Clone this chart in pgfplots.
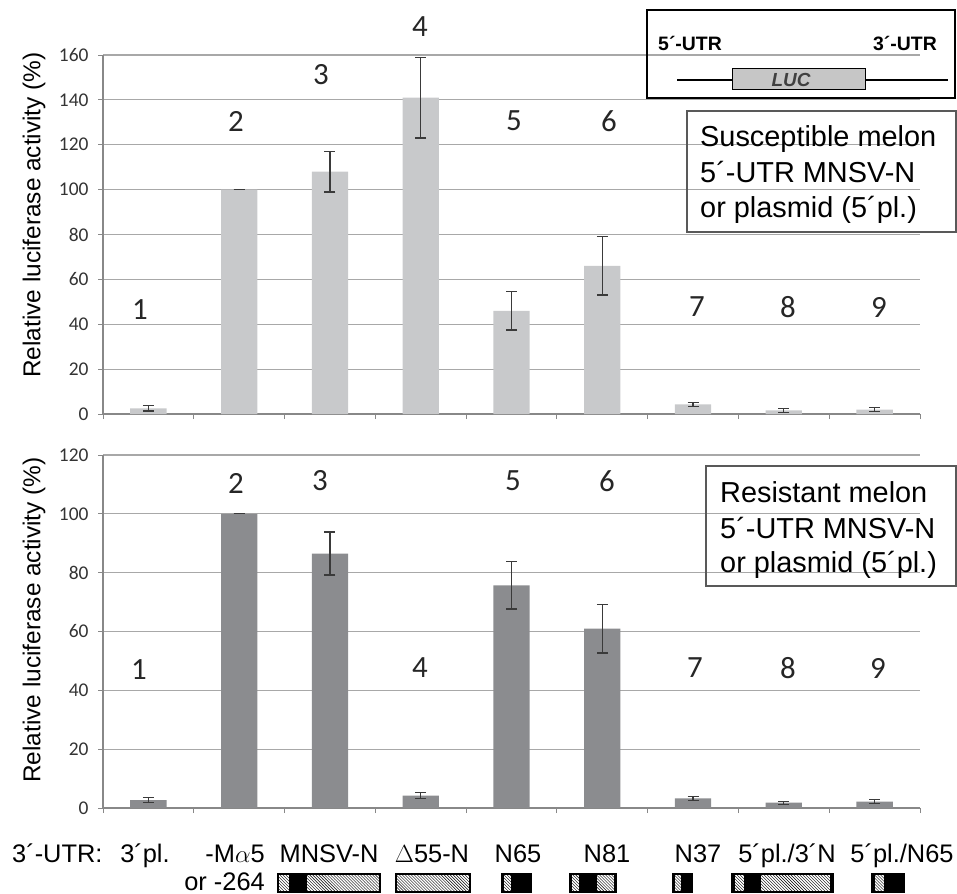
\documentclass[border=0pt]{standalone}
\usepackage{pgfplots}
\pgfplotsset{compat=1.18}
\usetikzlibrary{patterns}
\usepackage{fontspec}
\setmainfont{Liberation Sans}
\newfontfamily\carl{Carlito}

\definecolor{barA}{HTML}{C8C9CB}
\definecolor{barB}{HTML}{8B8C8F}
\definecolor{gridc}{HTML}{A8A8A8}
\definecolor{axc}{HTML}{888888}
\definecolor{errc}{HTML}{3A3A3A}

\pgfplotsset{base/.style={
  scale only axis, width=817bp, xmin=0.5, xmax=9.5, ymin=0,
  axis x line*=bottom, axis y line*=left,
  axis line style={-, draw=axc, line width=1.2bp},
  xtick={0.5,1.5,...,9.5}, xticklabels={},
  tick align=outside, major tick length=5bp,
  tick style={draw=axc, line width=1bp},
  ymajorgrids, grid style={draw=gridc, line width=1.2bp},
  yticklabel style={font=\carl\fontsize{19.5}{19.5}\selectfont, text=black!80, xshift=-6bp},
  /pgf/number format/assume math mode=true,
  clip=false,
  ybar, bar width=0.4,
}}
\pgfplotsset{errs/.style={error bars/.cd, y dir=both, y explicit,
  error bar style={draw=errc, line width=1.3bp},
  error mark options={draw=errc, line width=1.3bp, mark size=5.5bp, rotate=90}}}

\newcommand\hseg[2]{\fill[white] (#1,874) rectangle (#2,892); \fill[pattern=north west lines] (#1,874) rectangle (#2,892);}
\newcommand\bseg[2]{\fill[black] (#1,874) rectangle (#2,892);}
\newcommand\bxframe[2]{\draw[line width=1.2] (#1,874) rectangle (#2,892);}

\begin{document}
\begin{tikzpicture}
% ---------- top panel: susceptible melon ----------
\begin{axis}[base, at={(103bp,-414bp)}, anchor=south west,
  height=359bp, ymax=160, ytick={0,20,...,160}]
\addplot[fill=barA, draw=none, errs] coordinates {
 (1,2.5) +- (0,1.2)
 (2,100) +- (0,0)
 (3,108) +- (0,9)
 (4,141) +- (0,18)
 (5,46) +- (0,8.5)
 (6,66) +- (0,13)
 (7,4.3) +- (0,0.8)
 (8,1.6) +- (0,1)
 (9,2) +- (0,1)
};
\end{axis}
% ---------- bottom panel: resistant melon ----------
\begin{axis}[base, at={(103bp,-808bp)}, anchor=south west,
  height=353bp, ymax=120, ytick={0,20,...,120}]
\addplot[fill=barB, draw=none, errs] coordinates {
 (1,2.7) +- (0,0.8)
 (2,100) +- (0,0)
 (3,86.5) +- (0,7.3)
 (4,4.2) +- (0,1)
 (5,75.7) +- (0,8)
 (6,61) +- (0,8.3)
 (7,3.3) +- (0,0.7)
 (8,1.8) +- (0,0.5)
 (9,2.2) +- (0,0.7)
};
\end{axis}

\begin{scope}[x=1bp, y=-1bp]
% y labels
\node[rotate=90, font=\fontsize{24.5}{24.5}\selectfont] at (34,215) {Relative luciferase activity (\%)};
\node[rotate=90, font=\fontsize{24.5}{24.5}\selectfont] at (34,620) {Relative luciferase activity (\%)};
% construct numbers, top
\begin{scope}[every node/.style={font=\carl\fontsize{31}{31}\selectfont, text=black!85}]
\node at (140,310) {1};
\node at (236,121) {2};
\node at (321,75) {3};
\node at (420,27) {4};
\node at (514,121) {5};
\node at (609,121) {6};
\node at (697,307) {7};
\node at (788,307) {8};
\node at (879,307) {9};
% bottom
\node at (139,670) {1};
\node at (236,483) {2};
\node at (320,481) {3};
\node at (420,668) {4};
\node at (513,481) {5};
\node at (607,481) {6};
\node at (695,668) {7};
\node at (788,668) {8};
\node at (878,668) {9};
\end{scope}
% legend boxes
\draw[draw=black!65, line width=1.3] (687,111) rectangle (956,232);
\begin{scope}[every node/.style={font=\fontsize{29}{29}\selectfont, anchor=base west, inner sep=0}]
\node at (700,146) {Susceptible melon};
\node at (700,182) {5´-UTR MNSV-N};
\node at (700,217) {or plasmid (5´pl.)};
\end{scope}
\draw[draw=black!65, line width=1.3] (706,466) rectangle (956,586);
\begin{scope}[every node/.style={font=\fontsize{29}{29}\selectfont, anchor=base west, inner sep=0}]
\node at (720,502) {Resistant melon};
\node at (720,538) {5´-UTR MNSV-N};
\node at (720,572) {or plasmid (5´pl.)};
\end{scope}
% inset diagram
\draw[line width=2.2] (647,10) rectangle (955,98);
\node[font=\bfseries\fontsize{19.5}{19.5}\selectfont, anchor=base west, inner sep=0] at (658,50) {5´-UTR};
\node[font=\bfseries\fontsize{19.5}{19.5}\selectfont, anchor=base east, inner sep=0] at (937,50) {3´-UTR};
\draw[line width=1.3] (677,80) -- (732,80);
\draw[line width=1.3] (865,80) -- (948,80);
\draw[fill=gray!45, line width=1] (732,68) rectangle (865,89);
\node[font=\bfseries\itshape\fontsize{19}{19}\selectfont, text=black!75] at (791,80) {LUC};
% x category labels
\begin{scope}[every node/.style={font=\fontsize{25.5}{25.5}\selectfont, anchor=base, inner sep=0}]
\node[anchor=base west] at (12,862) {3´-UTR:};
\node at (145,862) {3´pl.};
\node[anchor=base east] at (265,862) {-M$\alpha$5};
\node[anchor=base east] at (265,890) {or -264};
\node at (329,862) {MNSV-N};
\node at (432,862) {$\Delta$55-N};
\node at (518,862) {N65};
\node at (607,862) {N81};
\node at (698,862) {N37};
\node at (787,862) {5´pl./3´N};
\node at (902,862) {5´pl./N65};
\end{scope}
% schematic boxes
\hseg{278}{289}\bseg{289}{307}\hseg{307}{380}\bxframe{278}{380}
\hseg{396}{470}\bxframe{396}{470}
\bseg{502}{531}\hseg{504}{511}\bxframe{502}{531}
\bseg{570}{616}\hseg{572}{579}\hseg{597}{614}\bxframe{570}{616}
\bseg{673}{692}\hseg{675}{681}\bxframe{673}{692}
\bseg{732}{833}\hseg{735}{744}\hseg{761}{830}\bxframe{732}{833}
\bseg{872}{904}\hseg{875}{884}\bxframe{872}{904}
\end{scope}
\pgfresetboundingbox
\path (0bp,0bp) rectangle (957bp,-894bp);
\end{tikzpicture}
\end{document}
